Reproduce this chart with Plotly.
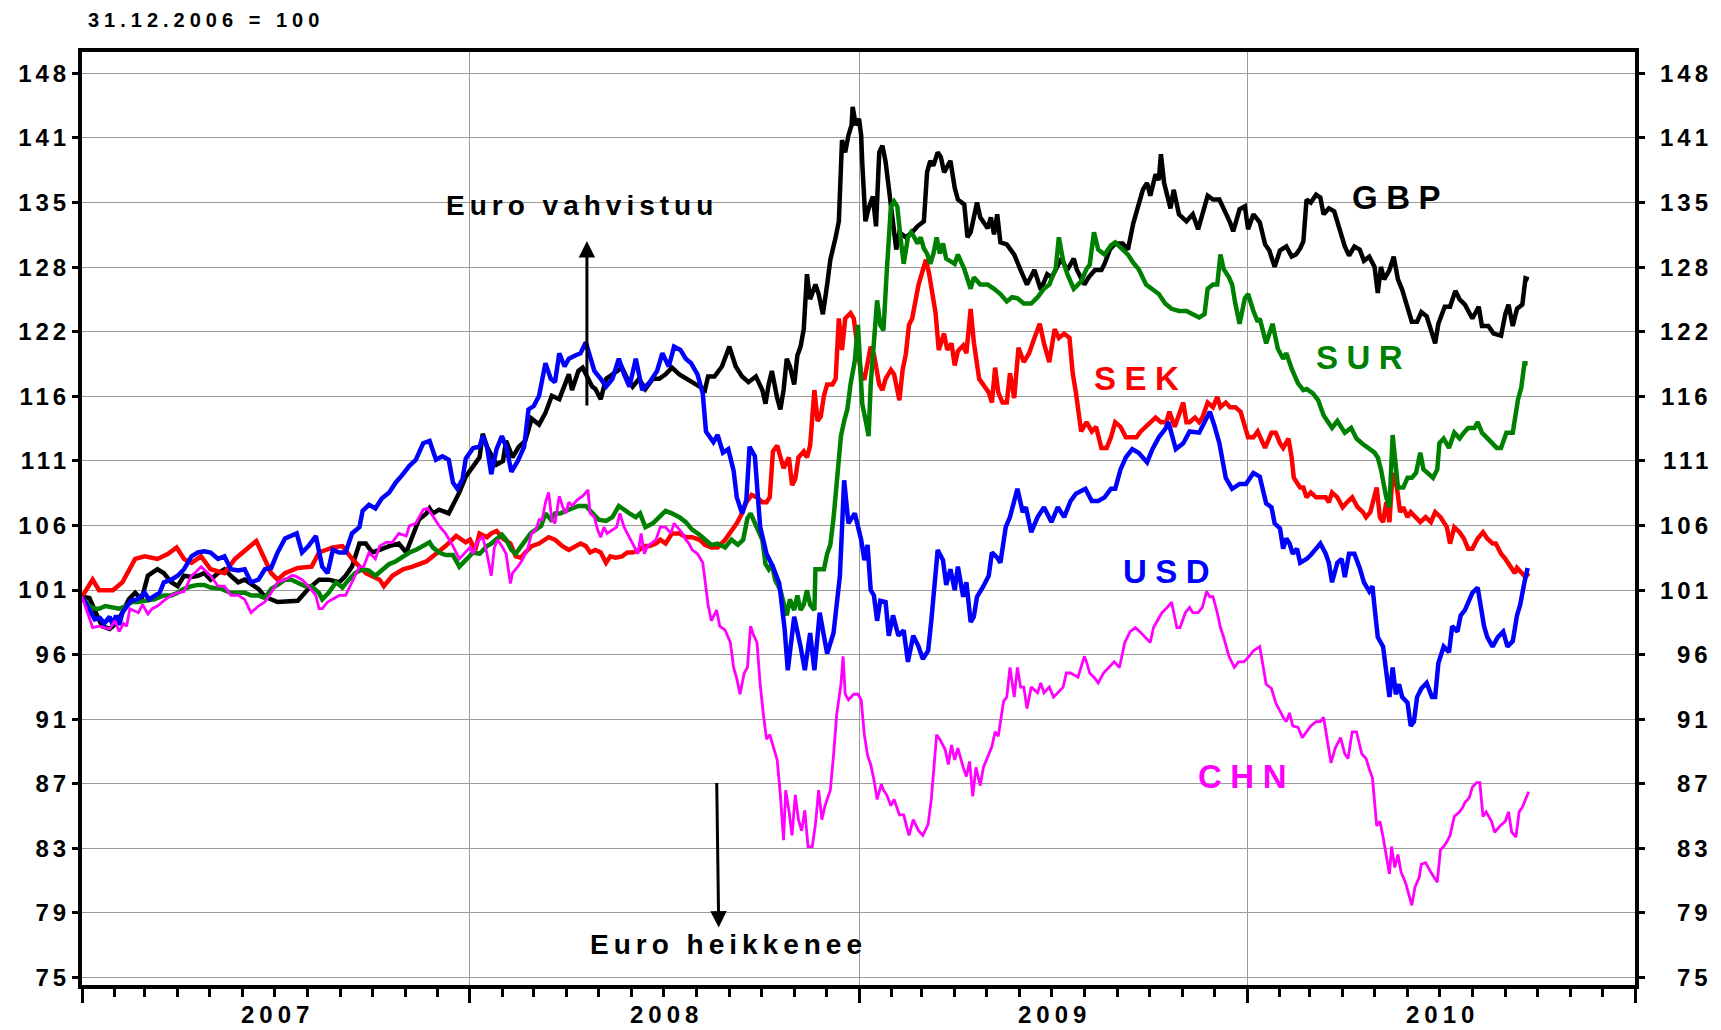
import math
import plotly.graph_objects as go

# ---------------- data (index, 31.12.2006 = 100) ----------------
gbp = [
("2007-01-01",100.0),("2007-01-08",99.9),("2007-01-14",98.8),("2007-01-20",97.8),("2007-01-27",97.6),
("2007-02-02",98.0),("2007-02-08",98.8),("2007-02-14",99.8),("2007-02-20",100.3),("2007-02-26",99.8),
("2007-03-04",101.6),("2007-03-13",102.1),("2007-03-19",101.8),("2007-03-26",101.1),("2007-04-01",100.8),
("2007-04-07",101.6),("2007-04-14",101.5),("2007-04-20",101.6),("2007-04-26",101.8),("2007-05-02",101.3),
("2007-05-09",101.8),("2007-05-15",102.1),("2007-05-21",101.6),("2007-05-28",101.1),("2007-06-03",101.3),
("2007-06-16",100.6),("2007-06-22",100.0),("2007-06-28",99.8),("2007-07-04",99.6),("2007-07-23",99.7),
("2007-08-02",100.6),("2007-08-12",101.3),("2007-08-21",101.3),("2007-08-31",101.1),("2007-09-06",101.6),
("2007-09-12",102.3),("2007-09-19",104.1),("2007-09-25",104.1),("2007-10-01",103.4),("2007-10-08",103.6),
("2007-10-17",103.9),("2007-10-26",104.1),("2007-11-02",103.4),("2007-11-08",104.7),("2007-11-14",106.0),
("2007-11-21",106.5),("2007-11-24",106.9),("2007-11-27",106.5),("2007-12-03",106.8),("2007-12-12",106.5),
("2007-12-22",108.2),("2007-12-28",109.5),("2008-01-07",110.8),("2008-01-10",111.1),("2008-01-13",113.1),
("2008-01-17",112.0),("2008-01-26",110.5),("2008-02-01",110.8),("2008-02-04",112.5),("2008-02-10",111.1),
("2008-02-16",112.0),("2008-02-22",112.5),("2008-02-28",114.4),("2008-03-06",113.9),("2008-03-12",114.9),
("2008-03-18",116.4),("2008-03-25",116.1),("2008-03-31",117.5),("2008-04-03",118.3),("2008-04-06",116.9),
("2008-04-12",118.6),("2008-04-16",118.9),("2008-04-25",117.2),("2008-04-28",117.0),("2008-05-03",116.1),
("2008-05-08",117.9),("2008-05-14",118.3),("2008-05-20",118.6),("2008-05-23",118.9),("2008-05-28",117.9),
("2008-06-02",117.2),("2008-06-08",117.9),("2008-06-14",117.0),("2008-06-21",117.9),("2008-06-27",117.9),
("2008-07-03",118.3),("2008-07-09",118.9),("2008-07-16",118.3),("2008-07-22",117.9),("2008-07-28",117.6),
("2008-08-04",117.2),("2008-08-09",116.9),("2008-08-12",118.1),("2008-08-18",118.1),("2008-08-25",119.0),
("2008-09-01",120.8),("2008-09-07",119.0),("2008-09-13",118.1),("2008-09-19",117.6),("2008-09-26",118.1),
("2008-10-02",116.9),("2008-10-05",115.7),("2008-10-08",117.4),("2008-10-11",118.6),("2008-10-16",116.2),
("2008-10-19",115.2),("2008-10-22",116.9),("2008-10-25",119.7),("2008-10-28",119.0),("2008-11-01",117.4),
("2008-11-04",120.0),("2008-11-07",120.8),("2008-11-10",122.4),("2008-11-13",127.6),("2008-11-16",125.2),
("2008-11-21",126.6),("2008-11-24",125.7),("2008-11-28",123.8),("2008-12-02",126.6),("2008-12-05",129.0),
("2008-12-10",131.2),("2008-12-13",132.8),("2008-12-16",141.2),("2008-12-19",139.9),("2008-12-22",141.7),
("2008-12-25",142.8),("2008-12-26",144.8),("2008-12-29",142.8),("2009-01-01",143.5),("2009-01-03",141.7),
("2009-01-04",138.9),("2009-01-07",132.8),("2009-01-10",134.1),("2009-01-14",135.3),("2009-01-17",132.3),
("2009-01-20",139.9),("2009-01-23",140.6),("2009-01-26",138.9),("2009-01-30",135.3),("2009-02-02",132.3),
("2009-02-05",130.0),("2009-02-08",131.7),("2009-02-14",131.2),("2009-02-20",131.7),("2009-02-25",132.3),
("2009-03-03",132.8),("2009-03-06",137.8),("2009-03-09",139.0),("2009-03-12",138.5),("2009-03-16",139.9),
("2009-03-19",139.4),("2009-03-22",137.8),("2009-03-28",139.0),("2009-04-01",136.2),("2009-04-04",135.0),
("2009-04-10",134.5),("2009-04-13",131.2),("2009-04-16",131.7),("2009-04-22",134.7),("2009-04-25",133.2),
("2009-04-28",132.7),("2009-05-02",132.1),("2009-05-05",133.2),("2009-05-08",131.5),("2009-05-11",133.5),
("2009-05-14",130.7),("2009-05-20",130.5),("2009-05-27",129.5),("2009-06-02",128.0),("2009-06-08",126.6),
("2009-06-15",128.0),("2009-06-21",126.1),("2009-06-27",127.6),("2009-07-01",127.3),("2009-07-05",128.0),
("2009-07-10",129.1),("2009-07-16",128.0),("2009-07-22",129.1),("2009-07-25",128.0),("2009-08-01",126.6),
("2009-08-05",127.3),("2009-08-11",128.0),("2009-08-17",128.0),("2009-08-20",128.6),("2009-08-25",130.0),
("2009-08-30",130.6),("2009-09-06",130.6),("2009-09-11",130.0),("2009-09-16",132.6),("2009-09-20",134.3),
("2009-09-25",136.0),("2009-09-29",136.7),("2009-10-02",135.4),("2009-10-07",137.6),("2009-10-10",137.0),
("2009-10-12",139.7),("2009-10-15",136.7),("2009-10-18",135.4),("2009-10-21",134.1),("2009-10-24",136.0),
("2009-10-29",133.5),("2009-11-05",132.8),("2009-11-11",133.5),("2009-11-16",132.0),("2009-11-20",133.5),
("2009-11-25",135.4),("2009-11-30",135.0),("2009-12-06",135.0),("2009-12-16",132.7),("2009-12-19",131.8),
("2009-12-25",134.0),("2009-12-30",134.3),("2010-01-02",132.0),("2010-01-07",133.5),("2010-01-13",132.7),
("2010-01-18",130.5),("2010-01-22",129.9),("2010-01-27",128.3),("2010-02-01",129.9),("2010-02-07",130.3),
("2010-02-12",129.3),("2010-02-16",129.5),("2010-02-20",130.1),("2010-02-23",130.8),("2010-02-26",135.0),
("2010-03-02",134.7),("2010-03-07",135.5),("2010-03-11",135.2),("2010-03-14",133.5),("2010-03-19",134.1),
("2010-03-24",133.8),("2010-03-29",132.2),("2010-04-03",130.3),("2010-04-07",129.4),("2010-04-12",130.3),
("2010-04-17",130.0),("2010-04-21",128.9),("2010-04-26",129.3),("2010-05-01",128.3),("2010-05-04",125.8),
("2010-05-07",128.3),("2010-05-10",127.1),("2010-05-15",128.0),("2010-05-19",129.3),("2010-05-23",127.1),
("2010-05-27",126.1),("2010-06-01",124.5),("2010-06-05",123.1),("2010-06-10",123.1),("2010-06-14",124.0),
("2010-06-19",123.6),("2010-06-24",122.0),("2010-06-27",121.1),("2010-06-30",122.9),("2010-07-06",124.5),
("2010-07-11",124.5),("2010-07-16",126.0),("2010-07-20",125.2),("2010-07-25",124.7),("2010-08-01",123.4),
("2010-08-07",124.5),("2010-08-10",122.7),("2010-08-16",122.7),("2010-08-21",122.0),("2010-08-28",121.8),
("2010-09-01",123.8),("2010-09-04",124.7),("2010-09-08",122.7),("2010-09-12",124.3),("2010-09-17",124.7),
("2010-09-20",127.2),("2010-09-23",127.1),
]

sek = [
("2007-01-01",100.0),("2007-01-11",101.3),("2007-01-17",100.5),("2007-01-30",100.5),("2007-02-08",101.1),
("2007-02-20",102.9),("2007-03-01",103.1),("2007-03-13",102.9),("2007-03-23",103.3),("2007-03-31",103.8),
("2007-04-07",102.9),("2007-04-14",102.6),("2007-04-23",103.1),("2007-05-02",102.1),("2007-05-15",101.8),
("2007-05-25",102.9),("2007-06-14",104.3),("2007-06-22",102.9),("2007-06-28",101.8),("2007-07-04",101.3),
("2007-07-11",101.8),("2007-07-23",102.2),("2007-08-05",102.3),("2007-08-12",103.4),("2007-08-25",103.8),
("2007-09-03",103.9),("2007-09-12",102.9),("2007-09-25",101.8),("2007-10-08",101.3),("2007-10-12",100.8),
("2007-10-20",101.6),("2007-10-30",102.1),("2007-11-08",102.3),("2007-11-21",102.7),("2007-11-27",103.1),
("2007-12-09",103.9),("2007-12-19",104.7),("2007-12-28",104.2),("2008-01-01",104.4),("2008-01-06",103.6),
("2008-01-10",104.9),("2008-01-17",104.6),("2008-01-21",104.9),("2008-01-26",105.1),("2008-02-01",104.5),
("2008-02-08",104.1),("2008-02-13",103.1),("2008-02-18",103.0),("2008-02-22",103.4),("2008-02-28",103.9),
("2008-03-06",104.1),("2008-03-12",104.4),("2008-03-15",104.6),("2008-03-21",104.4),("2008-03-28",103.9),
("2008-04-03",103.6),("2008-04-09",103.9),("2008-04-14",104.1),("2008-04-19",103.9),("2008-04-23",103.4),
("2008-04-28",103.6),("2008-05-03",103.4),("2008-05-08",102.6),("2008-05-12",103.1),("2008-05-17",103.0),
("2008-05-23",103.1),("2008-05-28",103.4),("2008-06-02",103.4),("2008-06-08",103.6),("2008-06-13",103.9),
("2008-06-18",103.9),("2008-06-24",104.1),("2008-06-28",104.4),("2008-07-03",104.1),("2008-07-09",104.9),
("2008-07-16",104.9),("2008-07-22",104.6),("2008-07-28",104.6),("2008-08-04",104.4),("2008-08-09",104.0),
("2008-08-15",103.8),("2008-08-21",103.8),("2008-08-28",104.4),("2008-09-03",105.1),("2008-09-08",105.7),
("2008-09-13",106.5),("2008-09-17",107.4),("2008-09-22",108.0),("2008-09-27",107.8),("2008-10-02",107.4),
("2008-10-06",107.4),("2008-10-09",107.8),("2008-10-12",111.6),("2008-10-16",112.1),("2008-10-19",111.1),
("2008-10-22",110.2),("2008-10-27",111.1),("2008-10-30",108.8),("2008-11-02",109.3),("2008-11-05",111.1),
("2008-11-10",111.6),("2008-11-13",111.1),("2008-11-16",112.1),("2008-11-20",116.9),("2008-11-23",114.2),
("2008-11-26",114.6),("2008-11-29",116.4),("2008-12-02",117.4),("2008-12-07",117.4),("2008-12-10",117.9),
("2008-12-13",123.4),("2008-12-16",120.5),("2008-12-19",123.4),("2008-12-24",123.9),("2008-12-27",123.4),
("2008-12-31",120.1),("2009-01-03",118.3),("2009-01-06",117.8),("2009-01-09",119.5),("2009-01-12",120.8),
("2009-01-15",120.1),("2009-01-20",117.4),("2009-01-23",116.9),("2009-01-26",117.9),("2009-01-31",118.7),
("2009-02-03",118.3),("2009-02-08",116.0),("2009-02-11",118.7),("2009-02-14",120.1),("2009-02-17",122.8),
("2009-02-20",123.4),("2009-02-23",125.3),("2009-02-26",126.6),("2009-03-02",128.0),("2009-03-05",129.0),
("2009-03-08",127.6),("2009-03-11",125.7),("2009-03-14",123.9),("2009-03-17",120.5),("2009-03-22",122.0),
("2009-03-25",120.5),("2009-03-29",121.1),("2009-04-01",119.1),("2009-04-04",120.4),("2009-04-09",120.9),
("2009-04-12",120.2),("2009-04-16",124.3),("2009-04-19",121.2),("2009-04-24",117.9),("2009-04-28",117.4),
("2009-05-03",116.7),("2009-05-06",115.8),("2009-05-09",118.9),("2009-05-12",116.7),("2009-05-16",115.8),
("2009-05-20",115.8),("2009-05-23",118.4),("2009-05-27",116.2),("2009-05-31",120.7),("2009-06-05",119.4),
("2009-06-10",120.2),("2009-06-15",121.6),("2009-06-20",122.9),("2009-06-24",121.1),("2009-06-29",119.4),
("2009-07-04",122.4),("2009-07-08",121.6),("2009-07-13",122.0),("2009-07-18",121.6),("2009-07-21",118.4),
("2009-07-24",116.7),("2009-07-29",113.3),("2009-08-03",114.1),("2009-08-08",113.3),("2009-08-12",113.7),
("2009-08-17",111.9),("2009-08-22",111.9),("2009-08-26",112.8),("2009-08-30",114.1),("2009-09-04",113.7),
("2009-09-09",112.8),("2009-09-14",112.8),("2009-09-19",112.8),("2009-09-23",113.3),("2009-09-28",113.7),
("2009-10-03",114.1),("2009-10-07",114.5),("2009-10-12",114.1),("2009-10-17",114.1),("2009-10-20",115.0),
("2009-10-25",113.7),("2009-10-30",115.0),("2009-11-02",115.8),("2009-11-05",114.1),("2009-11-08",114.1),
("2009-11-13",114.5),("2009-11-17",114.1),("2009-11-20",114.5),("2009-11-25",115.8),("2009-11-30",115.4),
("2009-12-04",116.3),("2009-12-07",115.4),("2009-12-12",115.8),("2009-12-16",115.4),("2009-12-21",115.4),
("2009-12-26",115.0),("2009-12-29",114.1),("2010-01-02",112.8),("2010-01-07",112.8),("2010-01-11",113.3),
("2010-01-18",111.9),("2010-01-24",113.2),("2010-01-28",113.2),("2010-02-01",112.3),("2010-02-04",111.9),
("2010-02-09",112.7),("2010-02-12",111.1),("2010-02-14",109.4),("2010-02-17",109.0),("2010-02-20",108.6),
("2010-02-23",108.6),("2010-02-26",107.8),("2010-03-02",108.2),("2010-03-07",107.8),("2010-03-11",107.8),
("2010-03-16",107.8),("2010-03-19",107.4),("2010-03-22",108.2),("2010-03-27",107.8),("2010-04-01",107.0),
("2010-04-05",107.4),("2010-04-10",107.8),("2010-04-15",107.0),("2010-04-20",106.6),("2010-04-23",106.2),
("2010-04-27",106.6),("2010-05-03",108.6),("2010-05-06",106.2),("2010-05-09",105.8),("2010-05-12",107.4),
("2010-05-15",105.8),("2010-05-18",109.8),("2010-05-22",108.6),("2010-05-25",106.6),("2010-05-28",107.0),
("2010-06-01",106.2),("2010-06-04",106.6),("2010-06-09",106.2),("2010-06-13",105.8),("2010-06-18",106.2),
("2010-06-23",105.8),("2010-06-27",106.6),("2010-07-02",106.2),("2010-07-05",105.8),("2010-07-08",105.4),
("2010-07-11",104.1),("2010-07-15",105.4),("2010-07-20",105.0),("2010-07-24",104.5),("2010-07-28",103.7),
("2010-08-01",103.7),("2010-08-06",104.5),("2010-08-11",105.0),("2010-08-15",104.5),("2010-08-20",104.1),
("2010-08-23",104.1),("2010-08-28",103.3),("2010-09-01",102.9),("2010-09-06",102.2),("2010-09-10",101.8),
("2010-09-12",102.2),("2010-09-17",101.8),("2010-09-20",101.5),("2010-09-23",101.8),
]

sur = [
("2007-01-01",100.0),("2007-01-08",99.3),("2007-01-13",99.1),("2007-01-17",99.1),("2007-01-23",99.3),
("2007-01-30",99.2),("2007-02-05",99.1),("2007-02-11",99.3),("2007-02-17",99.6),("2007-02-23",99.6),
("2007-03-01",99.7),("2007-03-10",99.8),("2007-03-19",100.1),("2007-03-26",100.1),("2007-04-01",100.3),
("2007-04-07",100.6),("2007-04-14",100.8),("2007-04-20",100.9),("2007-04-26",100.9),("2007-05-02",100.7),
("2007-05-12",100.6),("2007-05-21",100.3),("2007-05-28",100.3),("2007-06-03",100.3),("2007-06-09",100.1),
("2007-06-16",100.1),("2007-06-22",99.9),("2007-06-28",100.6),("2007-07-04",100.9),("2007-07-11",101.3),
("2007-07-17",101.3),("2007-07-23",101.1),("2007-07-30",100.8),("2007-08-05",100.8),("2007-08-12",100.3),
("2007-08-15",99.8),("2007-08-21",100.3),("2007-08-28",101.1),("2007-09-03",100.7),("2007-09-09",101.3),
("2007-09-15",101.8),("2007-09-22",102.1),("2007-09-28",102.0),("2007-10-04",101.6),("2007-10-11",102.1),
("2007-10-17",102.5),("2007-10-23",102.7),("2007-10-30",103.1),("2007-11-05",103.4),("2007-11-11",103.6),
("2007-11-18",103.9),("2007-11-24",104.2),("2007-11-27",103.8),("2007-12-03",103.4),("2007-12-09",103.2),
("2007-12-16",103.2),("2007-12-22",102.3),("2007-12-28",102.8),("2008-01-04",103.4),("2008-01-10",103.3),
("2008-01-17",103.9),("2008-01-21",104.1),("2008-01-26",104.4),("2008-01-31",104.8),("2008-02-04",104.4),
("2008-02-09",103.6),("2008-02-13",103.3),("2008-02-18",103.9),("2008-02-22",104.4),("2008-02-27",104.9),
("2008-03-03",105.2),("2008-03-08",105.5),("2008-03-12",106.5),("2008-03-17",106.0),("2008-03-21",106.5),
("2008-03-26",106.5),("2008-03-31",106.7),("2008-04-06",106.9),("2008-04-12",107.1),("2008-04-19",107.1),
("2008-04-25",106.5),("2008-05-01",106.0),("2008-05-08",105.9),("2008-05-14",106.2),("2008-05-20",107.1),
("2008-05-23",106.9),("2008-05-30",106.5),("2008-06-05",106.2),("2008-06-09",106.5),("2008-06-14",105.4),
("2008-06-21",105.7),("2008-06-27",106.2),("2008-07-03",106.7),("2008-07-09",106.5),("2008-07-16",106.2),
("2008-07-22",105.8),("2008-07-28",105.2),("2008-08-04",104.8),("2008-08-09",104.4),("2008-08-15",104.0),
("2008-08-21",104.1),("2008-08-28",103.8),("2008-09-03",104.4),("2008-09-09",104.0),("2008-09-14",104.4),
("2008-09-18",106.1),("2008-09-21",106.5),("2008-09-27",105.3),("2008-10-02",104.4),("2008-10-05",102.5),
("2008-10-08",102.1),("2008-10-11",102.5),("2008-10-14",101.3),("2008-10-19",100.5),("2008-10-22",99.4),
("2008-10-25",98.6),("2008-10-28",99.8),("2008-11-01",99.0),("2008-11-04",100.1),("2008-11-07",99.0),
("2008-11-10",99.4),("2008-11-13",100.5),("2008-11-16",99.4),("2008-11-20",99.0),("2008-11-21",102.1),
("2008-11-24",102.1),("2008-11-29",102.1),("2008-12-02",103.3),("2008-12-05",104.0),("2008-12-08",106.1),
("2008-12-11",108.8),("2008-12-15",112.9),("2008-12-18",114.2),("2008-12-21",115.2),("2008-12-24",117.4),
("2008-12-28",119.5),("2008-12-31",122.8),("2009-01-01",120.5),("2009-01-04",115.7),("2009-01-08",113.9),
("2009-01-10",112.9),("2009-01-12",117.4),("2009-01-15",120.8),("2009-01-18",125.1),("2009-01-21",122.8),
("2009-01-24",122.3),("2009-01-27",127.7),("2009-01-31",134.3),("2009-02-03",134.8),("2009-02-06",134.3),
("2009-02-09",131.2),("2009-02-12",128.6),("2009-02-16",131.2),("2009-02-19",131.7),("2009-02-22",131.2),
("2009-02-25",130.6),("2009-02-28",131.2),("2009-03-03",130.1),("2009-03-06",129.6),("2009-03-09",128.6),
("2009-03-12",129.6),("2009-03-15",131.2),("2009-03-18",129.6),("2009-03-21",130.6),("2009-03-24",129.1),
("2009-03-29",128.8),("2009-04-01",128.6),("2009-04-04",129.5),("2009-04-10",128.1),("2009-04-16",126.2),
("2009-04-19",127.3),("2009-04-25",126.6),("2009-05-02",126.6),("2009-05-08",126.2),("2009-05-14",125.7),
("2009-05-20",125.0),("2009-05-25",125.4),("2009-05-30",125.3),("2009-06-05",124.8),("2009-06-12",124.8),
("2009-06-18",125.4),("2009-06-24",126.2),("2009-06-29",126.6),("2009-07-05",128.1),("2009-07-08",131.2),
("2009-07-12",128.9),("2009-07-16",127.6),("2009-07-22",126.2),("2009-07-29",126.9),("2009-08-03",128.1),
("2009-08-06",128.5),("2009-08-10",131.7),("2009-08-14",130.0),("2009-08-20",129.5),("2009-08-26",130.4),
("2009-08-30",130.7),("2009-09-06",130.0),("2009-09-11",129.5),("2009-09-16",128.7),("2009-09-21",128.1),
("2009-09-28",126.6),("2009-10-04",126.2),("2009-10-10",125.7),("2009-10-16",124.8),("2009-10-22",124.3),
("2009-10-29",124.1),("2009-11-05",124.1),("2009-11-11",123.8),("2009-11-17",123.5),("2009-11-22",123.8),
("2009-11-25",126.2),("2009-11-30",126.6),("2009-12-04",126.6),("2009-12-07",129.5),("2009-12-10",128.1),
("2009-12-15",127.3),("2009-12-18",126.6),("2009-12-21",124.8),("2009-12-25",122.9),("2009-12-30",125.3),
("2010-01-02",125.7),("2010-01-07",124.1),("2010-01-11",123.1),("2010-01-13",123.4),("2010-01-19",121.1),
("2010-01-25",122.9),("2010-01-30",120.6),("2010-02-04",119.7),("2010-02-07",120.2),("2010-02-12",118.8),
("2010-02-18",117.5),("2010-02-23",116.9),("2010-02-26",117.0),("2010-03-04",116.6),("2010-03-09",116.0),
("2010-03-14",114.7),("2010-03-18",114.2),("2010-03-22",113.6),("2010-03-27",114.2),("2010-04-03",113.2),
("2010-04-09",113.6),("2010-04-14",112.7),("2010-04-19",112.3),("2010-04-25",111.9),("2010-05-01",111.5),
("2010-05-04",111.1),("2010-05-07",110.1),("2010-05-12",107.8),("2010-05-15",107.0),("2010-05-18",113.0),
("2010-05-20",111.1),("2010-05-23",108.6),("2010-05-28",108.6),("2010-06-01",109.4),("2010-06-05",109.4),
("2010-06-09",109.8),("2010-06-13",111.5),("2010-06-16",110.1),("2010-06-20",109.8),("2010-06-25",109.4),
("2010-06-29",110.1),("2010-07-01",112.3),("2010-07-05",112.7),("2010-07-10",111.9),("2010-07-15",113.2),
("2010-07-20",112.7),("2010-07-24",113.2),("2010-07-28",113.6),("2010-08-03",113.6),("2010-08-06",114.1),
("2010-08-10",113.2),("2010-08-15",112.7),("2010-08-19",112.3),("2010-08-24",111.9),("2010-08-28",111.9),
("2010-09-02",113.2),("2010-09-08",113.2),("2010-09-13",116.1),("2010-09-16",117.1),("2010-09-19",119.3),
("2010-09-22",119.3),
]

usd = [
("2007-01-01",100.0),("2007-01-08",99.0),("2007-01-13",98.3),("2007-01-18",98.4),("2007-01-22",98.0),
("2007-01-27",98.5),("2007-01-30",97.9),("2007-02-02",98.6),("2007-02-05",97.9),("2007-02-08",98.8),
("2007-02-12",99.3),("2007-02-16",99.7),("2007-02-22",99.8),("2007-03-01",100.3),("2007-03-05",99.8),
("2007-03-10",100.1),("2007-03-15",100.3),("2007-03-19",101.1),("2007-03-26",101.3),("2007-04-01",101.6),
("2007-04-07",102.1),("2007-04-14",103.1),("2007-04-20",103.4),("2007-04-26",103.5),("2007-05-02",103.4),
("2007-05-09",102.9),("2007-05-15",103.1),("2007-05-21",102.1),("2007-05-28",102.0),("2007-06-03",102.1),
("2007-06-09",101.1),("2007-06-16",101.3),("2007-06-22",102.1),("2007-06-28",102.2),("2007-07-04",103.4),
("2007-07-11",104.5),("2007-07-17",104.7),("2007-07-22",104.9),("2007-07-27",103.4),("2007-08-02",103.9),
("2007-08-09",104.7),("2007-08-15",102.3),("2007-08-20",101.8),("2007-08-25",103.6),("2007-08-31",103.4),
("2007-09-06",103.4),("2007-09-12",104.9),("2007-09-19",105.4),("2007-09-22",106.7),("2007-09-28",107.2),
("2007-10-04",106.9),("2007-10-10",107.7),("2007-10-17",108.2),("2007-10-23",109.0),("2007-10-29",109.6),
("2007-11-05",110.4),("2007-11-11",110.9),("2007-11-18",112.3),("2007-11-24",112.5),("2007-11-30",110.9),
("2007-12-06",111.2),("2007-12-12",110.9),("2007-12-16",109.0),("2007-12-20",108.5),("2007-12-25",109.3),
("2007-12-28",111.0),("2008-01-04",111.9),("2008-01-10",112.0),("2008-01-13",112.9),("2008-01-17",112.0),
("2008-01-21",109.7),("2008-01-26",111.8),("2008-01-31",112.9),("2008-02-04",112.0),("2008-02-09",109.9),
("2008-02-15",110.8),("2008-02-21",112.0),("2008-02-25",115.2),("2008-03-01",115.5),("2008-03-06",116.4),
("2008-03-12",119.3),("2008-03-17",117.9),("2008-03-21",117.6),("2008-03-25",120.2),("2008-03-30",119.0),
("2008-04-03",119.7),("2008-04-09",120.0),("2008-04-14",120.2),("2008-04-19",121.2),("2008-04-22",120.2),
("2008-04-27",118.6),("2008-05-03",117.9),("2008-05-08",117.2),("2008-05-14",117.9),("2008-05-20",119.7),
("2008-05-25",118.3),("2008-05-30",117.2),("2008-06-05",119.7),("2008-06-11",116.9),("2008-06-18",117.6),
("2008-06-25",118.6),("2008-06-30",120.2),("2008-07-06",119.0),("2008-07-11",120.8),("2008-07-17",120.5),
("2008-07-22",119.7),("2008-07-27",119.3),("2008-08-02",118.3),("2008-08-07",116.6),("2008-08-10",113.3),
("2008-08-17",112.4),("2008-08-21",113.0),("2008-08-26",111.5),("2008-08-31",111.8),("2008-09-05",110.0),
("2008-09-08",107.8),("2008-09-13",106.5),("2008-09-17",107.6),("2008-09-20",112.0),("2008-09-25",111.2),
("2008-09-30",105.4),("2008-10-06",103.3),("2008-10-12",102.3),("2008-10-18",101.0),("2008-10-23",97.6),
("2008-10-26",94.6),("2008-11-01",98.5),("2008-11-07",96.3),("2008-11-11",94.6),("2008-11-16",97.3),
("2008-11-20",94.6),("2008-11-25",98.8),("2008-12-02",95.8),("2008-12-08",97.3),("2008-12-14",101.6),
("2008-12-18",109.2),("2008-12-22",105.7),("2008-12-28",106.5),("2009-01-03",104.4),("2009-01-06",102.8),
("2009-01-09",104.0),("2009-01-12",100.5),("2009-01-15",100.1),("2009-01-18",98.2),("2009-01-21",99.7),
("2009-01-26",99.6),("2009-01-29",97.1),("2009-02-02",98.6),("2009-02-07",97.1),("2009-02-12",97.5),
("2009-02-16",95.2),("2009-02-21",97.1),("2009-02-26",96.3),("2009-03-02",95.4),("2009-03-07",96.0),
("2009-03-10",98.2),("2009-03-13",100.5),("2009-03-16",103.6),("2009-03-21",102.8),("2009-03-24",100.9),
("2009-03-28",102.1),("2009-04-01",100.5),("2009-04-04",102.3),("2009-04-09",100.0),("2009-04-12",101.1),
("2009-04-16",98.1),("2009-04-19",98.5),("2009-04-22",100.0),("2009-04-28",100.8),("2009-05-03",101.6),
("2009-05-06",103.4),("2009-05-11",103.0),("2009-05-14",102.6),("2009-05-19",105.4),("2009-05-23",106.2),
("2009-05-30",108.5),("2009-06-04",106.6),("2009-06-07",107.0),("2009-06-12",105.0),("2009-06-18",106.2),
("2009-06-24",107.0),("2009-07-01",105.8),("2009-07-07",107.0),("2009-07-13",106.2),("2009-07-19",107.5),
("2009-07-24",108.1),("2009-08-02",108.5),("2009-08-08",107.5),("2009-08-14",107.5),("2009-08-20",107.8),
("2009-08-26",108.5),("2009-08-30",108.5),("2009-09-04",110.1),("2009-09-09",111.1),("2009-09-15",111.8),
("2009-09-21",111.5),("2009-09-29",110.7),("2009-10-04",111.8),("2009-10-10",112.8),("2009-10-16",113.5),
("2009-10-19",114.1),("2009-10-26",111.8),("2009-11-02",112.3),("2009-11-08",113.3),("2009-11-17",113.2),
("2009-11-24",114.4),("2009-11-27",115.0),("2009-12-01",113.9),("2009-12-06",112.3),("2009-12-12",109.4),
("2009-12-18",108.5),("2009-12-25",108.9),("2009-12-31",108.9),("2010-01-07",109.8),("2010-01-13",109.5),
("2010-01-19",107.3),("2010-01-24",107.0),("2010-01-27",105.7),("2010-02-01",105.3),("2010-02-04",103.7),
("2010-02-07",104.5),("2010-02-10",104.1),("2010-02-13",103.3),("2010-02-17",103.7),("2010-02-20",102.6),
("2010-02-26",102.9),("2010-03-02",103.2),("2010-03-07",103.7),("2010-03-11",104.1),("2010-03-16",103.3),
("2010-03-19",102.6),("2010-03-22",101.1),("2010-03-27",102.6),("2010-03-31",102.9),("2010-04-03",101.5),
("2010-04-07",103.3),("2010-04-12",103.3),("2010-04-17",102.2),("2010-04-21",101.1),("2010-04-26",100.4),
("2010-04-29",100.8),("2010-05-01",99.2),("2010-05-04",97.0),("2010-05-09",96.3),("2010-05-12",94.1),
("2010-05-15",92.7),("2010-05-18",94.8),("2010-05-21",92.9),("2010-05-24",93.6),("2010-05-27",92.7),
("2010-06-01",92.3),("2010-06-04",90.7),("2010-06-07",91.0),("2010-06-10",92.7),("2010-06-14",93.3),
("2010-06-19",93.7),("2010-06-24",92.7),("2010-06-27",92.7),("2010-06-30",95.1),("2010-07-05",96.3),
("2010-07-10",95.9),("2010-07-13",97.8),("2010-07-18",97.4),("2010-07-21",98.6),("2010-07-25",99.0),
("2010-08-01",100.3),("2010-08-06",100.7),("2010-08-09",99.2),("2010-08-12",97.8),("2010-08-15",97.0),
("2010-08-20",96.3),("2010-08-25",97.0),("2010-08-30",97.4),("2010-09-03",96.3),("2010-09-08",96.7),
("2010-09-12",98.6),("2010-09-15",99.4),("2010-09-19",101.1),("2010-09-22",102.2),
]

chn = [
("2007-01-01",100.0),("2007-01-06",98.8),("2007-01-11",97.7),("2007-01-17",97.8),("2007-01-22",97.7),
("2007-01-27",97.6),("2007-02-01",98.2),("2007-02-05",97.4),("2007-02-09",98.0),("2007-02-12",97.8),
("2007-02-15",99.1),("2007-02-20",98.9),("2007-02-23",98.8),("2007-02-27",99.4),("2007-03-04",98.7),
("2007-03-08",99.1),("2007-03-13",99.3),("2007-03-19",99.7),("2007-03-26",100.1),("2007-04-01",100.3),
("2007-04-07",100.4),("2007-04-14",101.6),("2007-04-17",101.8),("2007-04-23",102.3),("2007-04-29",101.8),
("2007-05-02",101.6),("2007-05-09",100.8),("2007-05-15",100.8),("2007-05-21",100.1),("2007-05-28",100.1),
("2007-06-03",99.8),("2007-06-09",98.8),("2007-06-16",99.3),("2007-06-22",99.6),("2007-06-28",100.3),
("2007-07-04",101.1),("2007-07-11",101.3),("2007-07-17",101.6),("2007-07-20",101.6),("2007-07-27",101.3),
("2007-08-02",100.8),("2007-08-09",100.1),("2007-08-12",99.1),("2007-08-15",99.1),("2007-08-20",99.6),
("2007-08-25",99.8),("2007-08-31",100.1),("2007-09-06",100.1),("2007-09-12",101.1),("2007-09-19",102.3),
("2007-09-23",102.3),("2007-09-28",103.4),("2007-10-04",102.9),("2007-10-08",103.9),("2007-10-14",104.2),
("2007-10-20",104.2),("2007-10-26",104.9),("2007-11-02",104.7),("2007-11-05",105.5),("2007-11-11",105.7),
("2007-11-18",106.8),("2007-11-22",106.9),("2007-11-27",106.3),("2007-12-03",105.5),("2007-12-09",104.9),
("2007-12-16",103.9),("2007-12-22",102.9),("2007-12-28",103.4),("2008-01-01",103.8),("2008-01-04",103.3),
("2008-01-07",104.1),("2008-01-10",104.4),("2008-01-13",104.6),("2008-01-17",103.3),("2008-01-21",101.6),
("2008-01-24",103.8),("2008-01-27",104.4),("2008-01-31",103.9),("2008-02-04",103.3),("2008-02-08",101.0),
("2008-02-10",101.8),("2008-02-15",102.3),("2008-02-19",102.8),("2008-02-24",103.6),("2008-02-28",104.9),
("2008-03-03",105.2),("2008-03-06",106.0),("2008-03-09",106.0),("2008-03-12",107.4),("2008-03-15",108.2),
("2008-03-18",106.0),("2008-03-21",105.7),("2008-03-25",107.9),("2008-03-28",107.1),("2008-03-31",106.5),
("2008-04-03",107.4),("2008-04-06",107.1),("2008-04-11",107.6),("2008-04-16",107.9),("2008-04-21",108.4),
("2008-04-23",106.5),("2008-04-27",106.2),("2008-04-30",105.2),("2008-05-03",104.6),("2008-05-06",105.4),
("2008-05-09",104.9),("2008-05-14",105.2),("2008-05-18",105.4),("2008-05-21",106.5),("2008-05-25",105.4),
("2008-05-28",104.9),("2008-05-31",104.4),("2008-06-03",103.9),("2008-06-07",103.3),("2008-06-10",104.9),
("2008-06-13",103.3),("2008-06-16",103.9),("2008-06-19",104.1),("2008-06-24",104.4),("2008-06-28",105.4),
("2008-07-03",105.4),("2008-07-08",104.9),("2008-07-11",105.7),("2008-07-16",105.2),("2008-07-19",104.9),
("2008-07-22",104.4),("2008-07-25",104.1),("2008-07-28",103.6),("2008-08-02",103.3),("2008-08-07",102.6),
("2008-08-09",101.3),("2008-08-12",99.4),("2008-08-15",98.2),("2008-08-20",99.0),("2008-08-23",97.8),
("2008-08-28",97.5),("2008-09-02",96.6),("2008-09-05",94.8),("2008-09-08",94.0),("2008-09-11",92.9),
("2008-09-15",94.4),("2008-09-18",94.8),("2008-09-21",97.8),("2008-09-24",97.1),("2008-09-27",96.6),
("2008-09-30",93.6),("2008-10-03",91.5),("2008-10-06",89.8),("2008-10-09",90.1),("2008-10-13",89.1),
("2008-10-16",88.4),("2008-10-19",86.1),("2008-10-22",83.2),("2008-10-24",86.4),("2008-10-27",85.1),
("2008-10-30",83.5),("2008-11-02",86.1),("2008-11-05",84.5),("2008-11-08",83.8),("2008-11-11",85.1),
("2008-11-14",82.8),("2008-11-18",82.8),("2008-11-21",84.2),("2008-11-24",86.4),("2008-11-27",84.5),
("2008-11-30",85.4),("2008-12-05",86.4),("2008-12-08",88.7),("2008-12-11",91.5),("2008-12-15",93.6),
("2008-12-17",95.6),("2008-12-19",92.9),("2008-12-22",92.5),("2008-12-27",92.9),("2008-12-31",92.9),
("2009-01-03",92.5),("2009-01-06",90.1),("2009-01-09",88.7),("2009-01-12",88.1),("2009-01-15",87.1),
("2009-01-18",85.8),("2009-01-22",86.8),("2009-01-24",86.4),("2009-01-27",86.1),("2009-01-31",85.4),
("2009-02-03",85.8),("2009-02-08",84.8),("2009-02-12",84.8),("2009-02-17",83.5),("2009-02-21",84.5),
("2009-02-26",83.8),("2009-03-02",83.5),("2009-03-07",84.2),("2009-03-10",85.8),("2009-03-15",90.1),
("2009-03-18",89.8),("2009-03-23",89.1),("2009-03-26",88.1),("2009-03-29",89.4),("2009-04-01",88.4),
("2009-04-04",89.2),("2009-04-09",87.9),("2009-04-12",87.3),("2009-04-15",88.3),("2009-04-18",86.0),
("2009-04-21",87.9),("2009-04-25",86.7),("2009-04-28",87.9),("2009-05-02",88.6),("2009-05-06",89.3),
("2009-05-09",90.3),("2009-05-12",90.0),("2009-05-17",92.4),("2009-05-20",92.7),("2009-05-23",94.8),
("2009-05-27",92.7),("2009-05-30",94.8),("2009-06-02",93.4),("2009-06-05",93.4),("2009-06-08",91.9),
("2009-06-12",93.4),("2009-06-18",93.0),("2009-06-21",93.7),("2009-06-24",93.0),("2009-06-29",93.4),
("2009-07-03",92.7),("2009-07-07",93.0),("2009-07-12",93.4),("2009-07-15",94.4),("2009-07-19",94.4),
("2009-07-26",94.1),("2009-08-01",95.6),("2009-08-03",95.2),("2009-08-06",94.4),("2009-08-10",94.1),
("2009-08-14",93.7),("2009-08-19",94.4),("2009-08-24",94.8),("2009-08-29",95.2),("2009-09-03",94.8),
("2009-09-08",96.6),("2009-09-13",97.4),("2009-09-18",97.7),("2009-09-22",97.4),("2009-09-27",97.0),
("2009-10-02",96.6),("2009-10-05",97.7),("2009-10-08",98.1),("2009-10-13",98.8),("2009-10-18",99.2),
("2009-10-22",99.6),("2009-10-27",97.7),("2009-10-30",97.7),("2009-11-04",98.8),("2009-11-08",99.2),
("2009-11-11",98.8),("2009-11-16",98.8),("2009-11-20",99.2),("2009-11-24",100.4),("2009-11-27",100.0),
("2009-11-30",100.0),("2009-12-04",98.8),("2009-12-07",97.7),("2009-12-10",97.0),("2009-12-15",95.6),
("2009-12-20",94.8),("2009-12-24",95.2),("2009-12-29",95.2),("2010-01-03",95.6),("2010-01-07",96.0),
("2010-01-13",96.3),("2010-01-19",93.6),("2010-01-24",93.3),("2010-01-28",92.3),("2010-02-04",91.3),
("2010-02-07",91.0),("2010-02-10",91.6),("2010-02-13",90.7),("2010-02-18",90.6),("2010-02-22",89.9),
("2010-02-26",90.3),("2010-03-02",90.7),("2010-03-07",91.0),("2010-03-11",91.0),("2010-03-14",91.3),
("2010-03-18",89.5),("2010-03-21",88.2),("2010-03-25",89.2),("2010-03-30",89.9),("2010-04-03",88.8),
("2010-04-06",88.5),("2010-04-10",90.3),("2010-04-14",90.3),("2010-04-19",88.8),("2010-04-23",88.5),
("2010-04-26",87.8),("2010-04-29",87.2),("2010-05-03",84.1),("2010-05-06",84.4),("2010-05-09",83.4),
("2010-05-12",82.3),("2010-05-15",81.1),("2010-05-17",82.8),("2010-05-20",81.5),("2010-05-23",82.3),
("2010-05-26",81.2),("2010-05-30",80.6),("2010-06-02",79.9),("2010-06-05",79.2),("2010-06-08",80.3),
("2010-06-12",80.9),("2010-06-14",81.7),("2010-06-18",81.8),("2010-06-23",81.2),("2010-06-26",80.9),
("2010-06-29",80.6),("2010-07-02",82.6),("2010-07-05",82.8),("2010-07-08",83.1),("2010-07-11",83.5),
("2010-07-15",84.7),("2010-07-20",85.0),("2010-07-23",85.3),("2010-07-25",85.6),("2010-07-29",85.9),
("2010-08-01",86.6),("2010-08-05",86.9),("2010-08-08",86.9),("2010-08-11",84.7),("2010-08-14",85.0),
("2010-08-19",84.4),("2010-08-22",83.7),("2010-08-27",84.1),("2010-09-01",84.4),("2010-09-04",85.0),
("2010-09-07",83.7),("2010-09-11",83.4),("2010-09-14",85.0),("2010-09-17",85.3),("2010-09-21",85.9),
("2010-09-23",86.3),
]

# y-axis gridline values (log scale, 5 % steps) and their printed labels
tick_values = [75.0, 78.75, 82.69, 86.82, 91.16, 95.72, 100.51, 105.53, 110.81,
               116.35, 122.17, 128.28, 134.69, 141.43, 148.49]
tick_labels = ["75", "79", "83", "87", "91", "96", "101", "106", "111",
               "116", "122", "128", "135", "141", "148"]
year_labels = ["2007", "2008", "2009", "2010"]
year_centers = ["2007-07-02", "2008-07-02", "2009-07-02", "2010-07-02"]

series_names = ["GBP", "SEK", "SUR", "USD", "CHN"]
series_data = [gbp, sek, sur, usd, chn]

# ---------------- styling / layout ----------------
W, H = 1721, 1030
ML, MR, MT, MB = 82, 86, 52, 45
PW, PH = W - ML - MR, H - MT - MB
FONT = "Liberation Sans, Arial, Helvetica, sans-serif"
GRID = "#9a9a9a"

colors = {"GBP": "#000000", "SEK": "#ff0000", "SUR": "#008000",
          "USD": "#0000ff", "CHN": "#ff00ff"}
widths = {"GBP": 4.5, "SEK": 4.5, "SUR": 4.5, "USD": 4.5, "CHN": 2.8}


def px(x):
    return (x - ML) / PW


def py(y):
    return (H - MB - y) / PH


def sp(text, ls):
    return '<span style="letter-spacing:%spx">%s</span>' % (ls, text)


fig = go.Figure()
for name, data in zip(series_names, series_data):
    fig.add_trace(go.Scatter(
        x=[d for d, _ in data], y=[v for _, v in data], mode="lines", name=name,
        line=dict(color=colors[name], width=widths[name]),
        hoverinfo="skip", showlegend=False))

Y_RANGE = [1.87260, 2.17875]

fig.update_layout(
    width=W, height=H, margin=dict(l=ML, r=MR, t=MT, b=MB, autoexpand=False),
    paper_bgcolor="white", plot_bgcolor="white", showlegend=False,
    font=dict(family=FONT, color="black", size=24, weight="bold"),
    xaxis=dict(
        type="date", range=["2007-01-01", "2011-01-01"],
        tick0="2007-01-01", dtick="M12", showticklabels=False,
        ticks="outside", ticklen=14, tickwidth=3, tickcolor="black",
        showline=True, linewidth=4, linecolor="black", mirror=True,
        showgrid=True, gridcolor=GRID, gridwidth=1, zeroline=False,
        minor=dict(tick0="2007-01-01", dtick="M1", ticks="outside", ticklen=8,
                   tickwidth=3, tickcolor="black", showgrid=False),
    ),
    yaxis=dict(
        type="log", range=Y_RANGE, tickmode="array", tickvals=tick_values,
        ticktext=[sp(t, 4) for t in tick_labels],
        ticks="outside", ticklen=6, tickwidth=3, tickcolor="black",
        ticklabelstandoff=-3,
        tickfont=dict(family=FONT, size=24, color="black", weight="bold"),
        showline=True, linewidth=4, linecolor="black", mirror="ticks",
        showgrid=True, gridcolor=GRID, gridwidth=1, zeroline=False,
    ),
)

ann = []
# year labels centred in each year
for yc, yl in zip(year_centers, year_labels):
    ann.append(dict(xref="x", yref="paper", x=yc, y=py(1015), text=sp(yl, 5),
                    showarrow=False, xanchor="center", yanchor="middle", xshift=2,
                    font=dict(family=FONT, size=24, color="black", weight="bold")))

# right-hand duplicate labels
for v, t in zip(tick_values, tick_labels):
    ann.append(dict(xref="paper", yref="y", x=px(1714), y=math.log10(v),
                    text=sp(t, 4), showarrow=False, xanchor="right", yanchor="middle",
                    font=dict(family=FONT, size=24, color="black", weight="bold")))

# base note
ann.append(dict(xref="paper", yref="paper", x=px(86), y=py(20.3),
                text=sp("31.12.2006 = 100", 5), showarrow=False,
                xanchor="left", yanchor="middle",
                font=dict(family=FONT, size=20, color="black", weight="bold")))

# currency labels
label_pos = {"GBP": (1396, 197.7), "SUR": (1359, 357.8), "SEK": (1136, 378.7),
             "USD": (1166, 571.3), "CHN": (1242.5, 776)}
for name, (lx, ly) in label_pos.items():
    ann.append(dict(xref="paper", yref="paper", x=px(lx + 4), y=py(ly),
                    text=sp(name, 8.5), showarrow=False, xanchor="center", yanchor="middle",
                    font=dict(family=FONT, size=33, color=colors[name], weight="bold")))

# explanatory texts
ann.append(dict(xref="paper", yref="paper", x=px(581.5), y=py(205),
                text=sp("Euro vahvistuu", 5), showarrow=False, xanchor="center", yanchor="middle",
                font=dict(family=FONT, size=28, color="black", weight="bold")))
ann.append(dict(xref="paper", yref="paper", x=px(728), y=py(944),
                text=sp("Euro heikkenee", 5), showarrow=False, xanchor="center", yanchor="middle",
                font=dict(family=FONT, size=28, color="black", weight="bold")))

# arrows
ann.append(dict(xref="x", yref="y", x="2008-04-20", y=2.11673, ax=0, ay=166,
                axref="pixel", ayref="pixel", text="", showarrow=True,
                arrowhead=2, arrowsize=1.1, arrowwidth=3, arrowcolor="black"))
ann.append(dict(xref="x", yref="y", x="2008-08-22", y=1.89145, ax=-2, ay=-146,
                axref="pixel", ayref="pixel", text="", showarrow=True,
                arrowhead=2, arrowsize=1.1, arrowwidth=3, arrowcolor="black"))

fig.update_layout(annotations=ann)
fig.write_html("out.html",
               config={"displayModeBar": False},
               post_script="document.body.style.margin='0px';document.body.style.padding='0px';")
